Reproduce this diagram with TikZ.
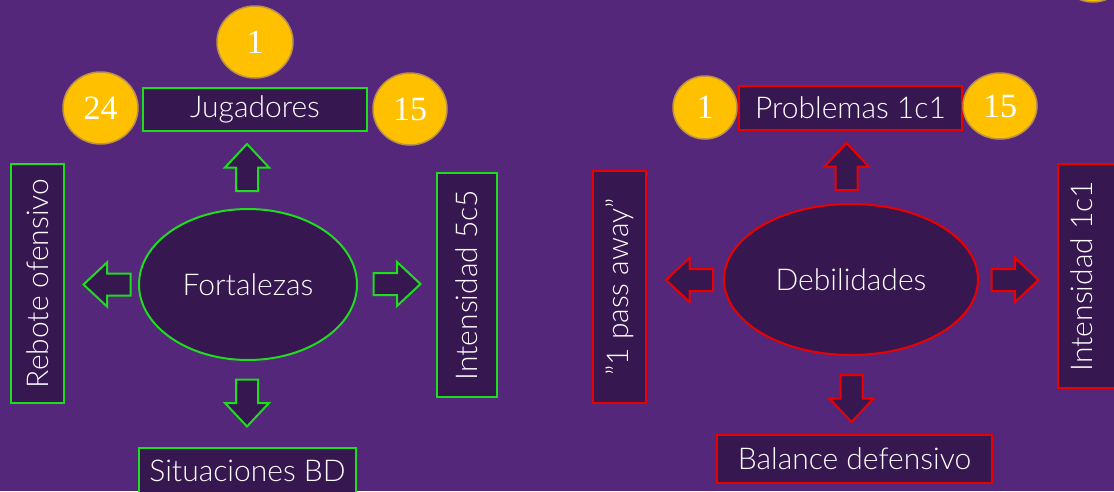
\documentclass[tikz,border=0pt]{standalone}
\usepackage{fontspec}
\setmainfont{Lato Light}
\newfontfamily\numfont{Liberation Serif}
\usepackage{tikz}
\usetikzlibrary{positioning,calc,shapes.geometric}
\definecolor{bgpurple}{RGB}{85,39,122}
\definecolor{boxpurple}{RGB}{55,23,80}
\definecolor{fortgreen}{RGB}{30,220,30}
\definecolor{debred}{RGB}{235,0,0}
\definecolor{numgold}{RGB}{255,192,0}
\definecolor{numrim}{RGB}{185,145,75}

\tikzset{
  box/.style={draw, fill=boxpurple, line width=2pt, text=white, inner sep=0,
    font=\fontsize{30}{34}\selectfont},
  core/.style={ellipse, draw, fill=boxpurple, line width=2pt, text=white, inner sep=0,
    font=\fontsize{30}{34}\selectfont},
  num/.style={ellipse, draw=numrim, fill=numgold, line width=1.5pt, text=white, inner sep=0,
    font=\numfont\fontsize{34}{38}\selectfont},
  blockarrow/.pic={
    \draw[line width=2pt, fill=boxpurple, line join=miter]
      (-23.5,-11) -- (0,-11) -- (0,-22) -- (23.5,0) -- (0,22) -- (0,11) -- (-23.5,11) -- cycle;
  }
}

\begin{document}
\begin{tikzpicture}[x=1pt, y=-1pt]
    \useasboundingbox (0,0) rectangle (1114,491);
    \fill[bgpurple] (0,0) rectangle (1114,491);

    % fortalezas
    \node[box, draw=fortgreen, minimum width=224, minimum height=43] (jug) at (255,109.5) {Jugadores};
    \node[num, minimum width=76, minimum height=72] (jugTop) at (255,42) {1};
    \node[num, minimum width=75, minimum height=72] (jugLeft) at (100.5,108) {24};
    \node[num, minimum width=74, minimum height=72] (jugRight) at (410,109) {15};
    \node[core, draw=fortgreen, minimum width=218, minimum height=151] (fort) at (248,284.5) {Fortalezas};
    \node[box, draw=fortgreen, rotate=90, minimum width=239, minimum height=53] (reb) at (37.5,283.5) {Rebote ofensivo};
    \node[box, draw=fortgreen, rotate=90, minimum width=224, minimum height=60] (int5) at (467,285) {Intensidad 5c5};
    \node[box, draw=fortgreen, minimum width=217, minimum height=46] (sit) at (247.5,471) {Situaciones BD};
    \pic[fortgreen, rotate=90] at (247,167.5) {blockarrow};
    \pic[fortgreen, rotate=180] at (107,284.5) {blockarrow};
    \pic[fortgreen] at (397,284) {blockarrow};
    \pic[fortgreen, rotate=-90] at (247,403) {blockarrow};

    % debilidades
    \node[box, draw=debred, minimum width=223, minimum height=44] (prob) at (850.5,108) {Problemas 1c1};
    \node[num, minimum width=64, minimum height=63] (probLeft) at (705,107.5) {1};
    \node[num, minimum width=74, minimum height=66] (probRight) at (1000,106) {15};
    \node[num, minimum width=72, minimum height=72] (corner) at (1093,-34) {};
    \node[core, draw=debred, minimum width=254, minimum height=151] (deb) at (851,279.5) {Debilidades};
    \node[box, draw=debred, rotate=90, minimum width=232, minimum height=53] (pass) at (619.5,287) {”1 pass away”};
    \node[box, draw=debred, rotate=90, minimum width=224, minimum height=60, text depth=12] (int1) at (1088,276) {Intensidad 1c1};
    \node[box, draw=debred, minimum width=275, minimum height=48] (bal) at (854.5,459) {Balance defensivo};
    \pic[debred, rotate=90] at (846.5,166.5) {blockarrow};
    \pic[debred, rotate=180] at (689.5,280) {blockarrow};
    \pic[debred] at (1015,280) {blockarrow};
    \pic[debred, rotate=-90] at (851.5,398.5) {blockarrow};
  \end{tikzpicture}
\end{document}
